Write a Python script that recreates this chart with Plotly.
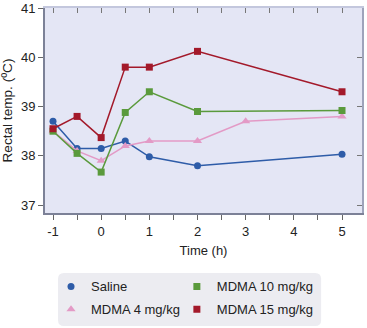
import plotly.graph_objects as go

# Rectal temperature over time for each treatment group
saline_t = [-1, -0.5, 0, 0.5, 1, 2, 5]
saline_v = [38.70, 38.15, 38.15, 38.30, 37.98, 37.80, 38.03]

mdma4_t = [-1, -0.5, 0, 0.5, 1, 2, 3, 5]
mdma4_v = [38.50, 38.10, 37.90, 38.20, 38.30, 38.30, 38.70, 38.80]

mdma10_t = [-1, -0.5, 0, 0.5, 1, 2, 5]
mdma10_v = [38.50, 38.05, 37.67, 38.88, 39.30, 38.90, 38.92]

mdma15_t = [-1, -0.5, 0, 0.5, 1, 2, 5]
mdma15_v = [38.55, 38.80, 38.37, 39.80, 39.80, 40.12, 39.30]

x_ticks = [-1, 0, 1, 2, 3, 4, 5]
y_ticks = [37, 38, 39, 40, 41]

FONT = "Liberation Sans, Arial, sans-serif"

fig = go.Figure()

# (name, times, values, colour, symbol, size, legend column)
series = [
    ("Saline", saline_t, saline_v, "#2e5ca8", "circle", 7, "legend"),
    ("MDMA 4 mg/kg", mdma4_t, mdma4_v, "#e39ac6", "triangle-up", 8, "legend"),
    ("MDMA 10 mg/kg", mdma10_t, mdma10_v, "#5a9a3c", "square", 7, "legend2"),
    ("MDMA 15 mg/kg", mdma15_t, mdma15_v, "#a3192a", "square", 7, "legend2"),
]
for name, t, v, col, sym, sz, leg in series:
    # connecting line (kept out of the legend)
    fig.add_trace(go.Scatter(
        x=t, y=v, mode="lines", line=dict(color=col, width=1.5),
        showlegend=False, legendgroup=name, hoverinfo="skip",
    ))
    # markers, which also supply the legend symbol
    fig.add_trace(go.Scatter(
        x=t, y=v, name=name, mode="markers", legendgroup=name, legend=leg,
        marker=dict(color=col, symbol=sym, size=sz, line=dict(width=0)),
    ))

# empty trace to carry the inward ticks on the top and right edges
fig.add_trace(go.Scatter(x=[], y=[], xaxis="x2", yaxis="y2", showlegend=False, hoverinfo="skip"))

xr = [-1.166, 5.415]
yr = [36.84, 41.0]

legend_style = dict(
    orientation="v", yanchor="top", xanchor="left", y=-0.285,
    bgcolor="rgba(0,0,0,0)", font=dict(size=13, color="#222"),
    tracegroupgap=3,
)

fig.update_layout(
    width=367, height=328,
    margin=dict(l=45, r=5, t=8, b=115, autoexpand=False),
    paper_bgcolor="white",
    plot_bgcolor="#e4e6f5",
    font=dict(family=FONT, size=13, color="#222222"),
    xaxis=dict(
        range=xr, tickvals=x_ticks, ticktext=[str(v) for v in x_ticks],
        showgrid=False, zeroline=False,
        showline=True, linecolor="#7c8197", linewidth=2,
        ticks="outside", ticklen=5, tickcolor="#666",
        minor=dict(dtick=0.5, tick0=0, ticks="outside", ticklen=5, tickcolor="#666"),
        title=dict(text="Time (h)", font=dict(size=13), standoff=8),
        tickfont=dict(size=13),
    ),
    yaxis=dict(
        range=yr, tickvals=y_ticks,
        showgrid=False, zeroline=False,
        showline=True, linecolor="#7c8197", linewidth=2,
        ticks="outside", ticklen=5, tickcolor="#666",
        title=dict(text="Rectal temp. (ºC)", font=dict(size=13.6), standoff=6),
        tickfont=dict(size=13),
    ),
    xaxis2=dict(
        overlaying="x", side="top", range=xr, tickvals=x_ticks,
        showticklabels=False, showgrid=False, zeroline=False,
        showline=True, linecolor="#c3c7dd", linewidth=2,
        ticks="inside", ticklen=5, tickcolor="#777",
        minor=dict(dtick=0.5, tick0=0, ticks="inside", ticklen=5, tickcolor="#777"),
    ),
    yaxis2=dict(
        overlaying="y", side="right", range=yr, tickvals=y_ticks,
        showticklabels=False, showgrid=False, zeroline=False,
        showline=True, linecolor="#9ea3bb", linewidth=2,
        ticks="inside", ticklen=5, tickcolor="#777",
    ),
    legend=dict(legend_style, x=0.019),
    legend2=dict(legend_style, x=0.416),
    showlegend=True,
)

# rounded legend panel
x0, x1, y0, y1, r = 0.041, 0.871, -0.551, -0.293, 6
rx, ry = r / 317, r / 205
path = (
    f"M {x0+rx},{y1} L {x1-rx},{y1} Q {x1},{y1} {x1},{y1-ry} "
    f"L {x1},{y0+ry} Q {x1},{y0} {x1-rx},{y0} L {x0+rx},{y0} "
    f"Q {x0},{y0} {x0},{y0+ry} L {x0},{y1-ry} Q {x0},{y1} {x0+rx},{y1} Z"
)
fig.add_shape(type="path", path=path, xref="paper", yref="paper",
              fillcolor="#ececf1", line=dict(width=0), layer="below")

fig.write_html("out.html")
